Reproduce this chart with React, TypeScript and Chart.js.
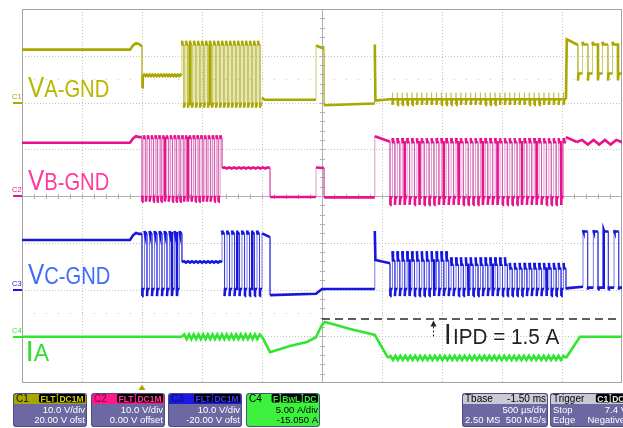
import { useEffect, useRef } from "react";
import { Chart, registerables } from "chart.js";

Chart.register(...registerables);

// ---------- scope settings ----------
const TIME_MIN = -1.0; // ms (500 µs/div, 10 div, trigger at 0)
const TIME_MAX = 4.0;
const UNITS_PER_DIV = [10, 10, 10, 5];
const ZERO_POS_DIV = [2, 0, -2, -3.01]; // zero level, divisions above centre
const CHANNELS = ["C1", "C2", "C3", "C4"];
const TRACE_COLORS = ["#aaa700", "#e8128c", "#1616dc", "#30e630"];
const EDGE_COLORS = ["rgba(180,178,40,0.65)", "rgba(210,80,170,0.6)", "rgba(50,50,225,0.65)", "rgba(48,230,48,0.9)"];
const LABEL_COLORS = ["#b8b600", "#ff3a9c", "#3e6cff", "#33dd33"];
const TRACE_LABELS = [["V", "A-GND"], ["V", "B-GND"], ["V", "C-GND"], ["I", "A"]];

// ---------- traces (values read from the screen) ----------
// ["pts", [t, v], ...]
// ["burst", t0, t1, pulses, levelA, levelB, fractionA, overshootA, overshootB]
// ["ripple", t0, t1, count, centre, amplitude]
// ["spikes", t0, t1, count, base, up, down]
const VA_GND = [
  ["pts", [-1, 11.3], [-0.1, 11.3], [-0.075, 12.2], [-0.05, 12.7], [-0.025, 12.5], [0, 12.0], [0, 3.2], [0.006, 5.8]],
  ["ripple", 0.006, 0.333, 14, 5.8, 0.15],
  ["burst", 0.333, 1.0, 20, 12.4, -0.3, 0.5, 0.8, -0.8],
  ["pts", [1.0, 1.0], [1.02, 0.6], [1.45, 0.6], [1.45, 12.2], [1.517, 11.5], [1.517, -0.6], [1.94, -0.2], [1.94, 12.4], [1.945, 0.4], [2.067, 0.7]],
  ["spikes", 2.067, 3.533, 36, 0.7, 1.4, 1.2],
  ["pts", [3.533, 0.7], [3.54, 13.5], [3.633, 12.3]],
  ["burst", 3.633, 4.05, 5, 6.2, 12.4, 0.45, -1.5, 0.6],
];

const VB_GND = [
  ["pts", [-1, 11.4], [-0.1, 11.4], [-0.075, 12.3], [-0.05, 12.8], [-0.025, 12.6], [0, 12.6]],
  ["burst", 0, 0.667, 21, -0.2, 12.4, 0.5, -1.0, 0.6],
  ["pts", [0.667, 6.0]],
  ["ripple", 0.667, 1.067, 10, 6.0, 0.12],
  ["pts", [1.067, 6.0], [1.067, -0.2], [1.45, -0.2], [1.45, 6.1], [1.517, 6.0], [1.517, -0.3], [1.94, -0.3], [1.94, 12.8], [2.067, 11.6]],
  ["burst", 2.067, 3.533, 36, -0.3, 11.5, 0.5, -1.6, 0.9],
  ["pts", [3.533, 12.6], [3.62, 11.6]],
  ["ripple", 3.62, 4.0, 4, 11.5, 0.5],
];

const VC_GND = [
  ["pts", [-1, 10.6], [-0.1, 10.6], [-0.075, 11.6], [-0.05, 12.1], [-0.025, 11.9], [0, 11.9]],
  ["burst", 0, 0.333, 8, 0.1, 12.0, 0.5, -1.5, 0.5],
  ["pts", [0.333, 5.9]],
  ["ripple", 0.333, 0.667, 10, 5.9, 0.15],
  ["pts", [0.667, 5.9]],
  ["burst", 0.667, 1.0, 8, 12.0, 0.1, 0.5, 0.6, -1.5],
  ["pts", [1.0, 12.0], [1.067, 11.2], [1.067, -1.2], [1.45, -0.9], [1.5, 0.1], [1.94, 0.1], [1.94, 12.5], [1.945, 6.3], [2.067, 5.6]],
  ["burst", 2.067, 2.556, 12, 0.1, 6.2, 0.5, -1.5, 2.0],
  ["burst", 2.556, 3.045, 12, 0.1, 5.3, 0.5, -1.5, 1.6],
  ["burst", 3.045, 3.533, 12, 0.1, 4.5, 0.5, -1.5, 1.2],
  ["pts", [3.533, 0.1], [3.55, 0.3], [3.675, 0.6]],
  ["burst", 3.675, 4.02, 4, 12.4, 0.4, 0.45, 0.3, -0.4],
];

const I_A = [
  ["pts", [-1, 0], [0.333, 0]],
  ["ripple", 0.333, 1.0, 17, 0, 0.25],
  ["pts", [1.0, 0], [1.067, -1.65], [1.125, -1.42], [1.233, -1.0], [1.375, -0.56], [1.45, -0.05], [1.47, 0.5], [1.5, 1.25], [1.525, 1.58], [1.61, 1.27], [1.733, 0.83], [1.875, 0.4], [1.94, 0.19], [2.05, -2.27]],
  ["ripple", 2.05, 3.533, 36, -2.27, 0.22],
  ["pts", [3.533, -2.27], [3.65, 0], [4.0, 0]],
];

const IPD_LEVEL = 1.9; // A
const IPD_SPAN = [1.5, 3.95];
const IPD_ARROW_T = 2.425;
const IPD_TEXT = ["I", "IPD = 1.5 A"];

// ---------- readout boxes ----------
const CH_VDIV_TEXT = ["10.0 V/div", "10.0 V/div", "10.0 V/div", "5.00 A/div"];
const CH_OFS_TEXT = ["20.00 V ofst", "0.00 V offset", "-20.00 V ofst", "-15.050 A"];
const CH_TAGS = [["FLT", "DC1M"], ["FLT", "DC1M"], ["FLT", "DC1M"], ["F", "BwL", "DC"]];
const TBASE_TEXT = ["Tbase", "-1.50 ms", "500 µs/div", "2.50 MS", "500 MS/s"];
const TRIGGER_TEXT = ["Trigger", "C1", "DC", "Stop", "7.4 V", "Edge", "Negative"];

function buildTrace(pieces: any[]) {
  const out: { x: number; y: number }[] = [];
  const tiny = 0.004;
  for (const p of pieces) {
    const kind = p[0];
    if (kind === "pts") {
      for (let i = 1; i < p.length; i++) out.push({ x: p[i][0], y: p[i][1] });
    } else if (kind === "burst") {
      const [, t0, t1, n, a, b, frac, sa, sb] = p;
      const per = (t1 - t0) / n;
      for (let k = 0; k < n; k++) {
        const ts = t0 + k * per;
        const tm = ts + frac * per;
        out.push({ x: ts, y: a + sa }, { x: ts + tiny, y: a }, { x: tm, y: a });
        out.push({ x: tm, y: b + sb }, { x: tm + tiny, y: b }, { x: ts + per, y: b });
      }
    } else if (kind === "ripple") {
      const [, t0, t1, n, c, amp] = p;
      const step = (t1 - t0) / (2 * n);
      for (let i = 0; i <= 2 * n; i++) {
        const y = i === 0 || i === 2 * n ? c : i % 2 ? c + amp : c - amp;
        out.push({ x: t0 + i * step, y });
      }
    } else if (kind === "spikes") {
      const [, t0, t1, n, base, up, down] = p;
      const per = (t1 - t0) / n;
      out.push({ x: t0, y: base });
      for (let k = 0; k < n; k++) {
        const tc = t0 + (k + 0.5) * per;
        out.push({ x: tc, y: base }, { x: tc, y: base + up }, { x: tc, y: base - down }, { x: tc + 0.005, y: base });
      }
      out.push({ x: t1, y: base });
    }
  }
  return out;
}

function axisFor(i: number) {
  return {
    type: "linear",
    display: false,
    min: (-4 - ZERO_POS_DIV[i]) * UNITS_PER_DIV[i],
    max: (4 - ZERO_POS_DIV[i]) * UNITS_PER_DIV[i],
  };
}

const FONT = '"Liberation Sans", Arial, sans-serif';

function drawLabel(ctx: CanvasRenderingContext2D, x: number, y: number, parts: [string, number][], color: string, sx: number) {
  ctx.save();
  ctx.translate(x, y);
  ctx.scale(sx, 1);
  ctx.fillStyle = color;
  ctx.textAlign = "left";
  ctx.textBaseline = "alphabetic";
  let cx = 0;
  for (const [txt, size] of parts) {
    ctx.font = `${size}px ${FONT}`;
    ctx.fillText(txt, cx, 0);
    cx += ctx.measureText(txt).width;
  }
  ctx.restore();
}

function drawTags(ctx: CanvasRenderingContext2D, right: number, top: number, tags: string[], color: string) {
  ctx.font = `bold 8.5px ${FONT}`;
  let x = right;
  for (let i = tags.length - 1; i >= 0; i--) {
    const w = ctx.measureText(tags[i]).width + 3;
    x -= w;
    ctx.fillStyle = "#000";
    ctx.beginPath();
    ctx.roundRect(x, top, w, 8.5, 1.5);
    ctx.fill();
    ctx.fillStyle = color;
    ctx.textAlign = "left";
    ctx.fillText(tags[i], x + 1.5, top + 7.5);
    x -= 1;
  }
}

function drawBox(ctx: CanvasRenderingContext2D, x: number, w: number, headColor: string, bodyColor: string) {
  const y = 393, h = 34, hh = 10;
  ctx.fillStyle = bodyColor;
  ctx.beginPath();
  ctx.roundRect(x, y, w, h, 3);
  ctx.fill();
  ctx.fillStyle = headColor;
  ctx.beginPath();
  ctx.roundRect(x + 1, y + 1, w - 2, hh, [2, 2, 0, 0]);
  ctx.fill();
  ctx.strokeStyle = "#4e4b85";
  ctx.lineWidth = 1;
  ctx.beginPath();
  ctx.roundRect(x + 0.5, y + 0.5, w - 1, h - 1, 3);
  ctx.stroke();
}

const BODY = "#6c68a2";
const HEADS = ["#aaa600", "#ff1a8c", "#1a1ae0", "#3ef03e"];
const HEAD_TEXT = ["#111", "#6a0044", "#0c0c70", "#000"];
const TAG_TEXT = ["#d0cc10", "#ff3a98", "#3a3aff", "#3ef03e"];
const BOX_X = [13, 91, 168, 246];

const scopePlugin = {
  id: "scope",
  beforeDraw(chart: any) {
    const ctx = chart.ctx;
    ctx.save();
    ctx.fillStyle = "#fff";
    ctx.fillRect(0, 0, chart.width, chart.height);
    ctx.restore();
  },
  beforeDatasetsDraw(chart: any) {
    const { ctx, chartArea: a } = chart;
    const dx = (a.right - a.left) / 10;
    const dy = (a.bottom - a.top) / 8;
    ctx.save();
    ctx.lineWidth = 1;
    ctx.strokeStyle = "#c2c2c2";
    ctx.setLineDash([1, 2]);
    for (let i = 1; i < 10; i++) {
      if (i === 5) continue;
      const x = Math.round(a.left + i * dx) + 0.5;
      ctx.beginPath(); ctx.moveTo(x, a.top); ctx.lineTo(x, a.bottom); ctx.stroke();
    }
    for (let j = 1; j < 8; j++) {
      if (j === 4) continue;
      const y = Math.round(a.top + j * dy) + 0.5;
      ctx.beginPath(); ctx.moveTo(a.left, y); ctx.lineTo(a.right, y); ctx.stroke();
    }
    ctx.setLineDash([1, 11]);
    for (const j of [1.5, 6.5]) {
      const y = Math.round(a.top + j * dy) + 0.5;
      ctx.beginPath(); ctx.moveTo(a.left, y); ctx.lineTo(a.right, y); ctx.stroke();
    }
    ctx.setLineDash([]);
    ctx.strokeStyle = "#b0b0b0";
    const cx = Math.round(a.left + 5 * dx) + 0.5;
    const cy = Math.round(a.top + 4 * dy) + 0.5;
    ctx.beginPath(); ctx.moveTo(cx, a.top); ctx.lineTo(cx, a.bottom); ctx.stroke();
    ctx.beginPath(); ctx.moveTo(a.left, cy); ctx.lineTo(a.right, cy); ctx.stroke();
    for (let k = 1; k < 40; k++) {
      const y = Math.round(a.top + (k * dy) / 5) + 0.5;
      ctx.beginPath(); ctx.moveTo(cx - 2.5, y); ctx.lineTo(cx + 2.5, y); ctx.stroke();
    }
    for (let k = 1; k < 50; k++) {
      const x = Math.round(a.left + (k * dx) / 5) + 0.5;
      ctx.beginPath(); ctx.moveTo(x, cy - 2.5); ctx.lineTo(x, cy + 2.5); ctx.stroke();
    }
    ctx.strokeStyle = "#a4a4a4";
    ctx.strokeRect(a.left + 0.5, a.top + 0.5, a.right - a.left - 1, a.bottom - a.top - 1);
    ctx.restore();
  },
  afterDatasetsDraw(chart: any) {
    const { ctx, chartArea: a, scales } = chart;
    ctx.save();
    // trace labels
    const baselines = [97, 190, 284, 361];
    for (let i = 0; i < 4; i++) {
      const [big, small] = TRACE_LABELS[i];
      if (i === 3) drawLabel(ctx, 25.5, baselines[i], [[big, 30], [small, 23]], LABEL_COLORS[i], 1);
      else drawLabel(ctx, 28, baselines[i], [[big, 29], [small, 24]], LABEL_COLORS[i], 0.84);
    }
    // channel ground markers
    for (let i = 0; i < 4; i++) {
      const y = Math.round(scales["y" + (i + 1)].getPixelForValue(0));
      ctx.fillStyle = TRACE_COLORS[i];
      ctx.fillRect(13, y - 1, 9, 2);
      ctx.font = `7.5px ${FONT}`;
      ctx.textAlign = "left";
      ctx.fillText(CHANNELS[i], 12, y - 4);
    }
    // trigger marker
    const tx = scales.x.getPixelForValue(0);
    ctx.fillStyle = "#b0a400";
    ctx.beginPath();
    ctx.moveTo(tx, a.bottom + 1.5);
    ctx.lineTo(tx - 3.5, a.bottom + 7);
    ctx.lineTo(tx + 3.5, a.bottom + 7);
    ctx.closePath();
    ctx.fill();
    // IPD arrow
    const ax = Math.round(scales.x.getPixelForValue(IPD_ARROW_T)) + 0.5;
    const ayTop = scales.y4.getPixelForValue(IPD_LEVEL) + 1.5;
    const ayBot = scales.y4.getPixelForValue(0);
    ctx.strokeStyle = "#222";
    ctx.lineWidth = 1;
    ctx.setLineDash([2, 2]);
    ctx.beginPath(); ctx.moveTo(ax, ayTop + 6); ctx.lineTo(ax, ayBot); ctx.stroke();
    ctx.setLineDash([]);
    ctx.fillStyle = "#222";
    ctx.beginPath();
    ctx.moveTo(ax, ayTop);
    ctx.lineTo(ax - 3, ayTop + 6);
    ctx.lineTo(ax + 3, ayTop + 6);
    ctx.closePath();
    ctx.fill();
    drawLabel(ctx, 444, 344, [[IPD_TEXT[0], 29]], "#222", 0.94);
    drawLabel(ctx, 453, 344, [[IPD_TEXT[1], 22]], "#222", 0.94);

    // channel readout boxes
    for (let i = 0; i < 4; i++) {
      const x = BOX_X[i], w = 74;
      drawBox(ctx, x, w, HEADS[i], i === 3 ? HEADS[3] : BODY);
      ctx.fillStyle = HEAD_TEXT[i];
      ctx.font = `10px ${FONT}`;
      ctx.textAlign = "left";
      ctx.fillText(CHANNELS[i], x + 3, 402);
      drawTags(ctx, x + w - 2, 394, CH_TAGS[i], TAG_TEXT[i]);
      ctx.fillStyle = i === 3 ? "#000" : "#fff";
      ctx.font = `9.5px ${FONT}`;
      ctx.textAlign = "right";
      ctx.fillText(CH_VDIV_TEXT[i], x + w - 2, 413);
      ctx.fillText(CH_OFS_TEXT[i], x + w - 2, 423);
    }
    // timebase box
    drawBox(ctx, 462, 86, "#cacad6", BODY);
    ctx.font = `10px ${FONT}`;
    ctx.fillStyle = "#000";
    ctx.textAlign = "left";
    ctx.fillText(TBASE_TEXT[0], 465, 402);
    ctx.textAlign = "right";
    ctx.fillText(TBASE_TEXT[1], 546, 402);
    ctx.fillStyle = "#fff";
    ctx.font = `9.5px ${FONT}`;
    ctx.fillText(TBASE_TEXT[2], 546, 413);
    ctx.fillText(TBASE_TEXT[4], 546, 423);
    ctx.textAlign = "left";
    ctx.fillText(TBASE_TEXT[3], 465, 423);
    // trigger box
    drawBox(ctx, 550, 80, "#cacad6", BODY);
    ctx.font = `10px ${FONT}`;
    ctx.fillStyle = "#000";
    ctx.textAlign = "left";
    ctx.fillText(TRIGGER_TEXT[0], 553, 402);
    drawTags(ctx, 626, 394, [TRIGGER_TEXT[1], TRIGGER_TEXT[2]], "#e6e6e6");
    ctx.fillStyle = "#fff";
    ctx.font = `9.5px ${FONT}`;
    ctx.textAlign = "left";
    ctx.fillText(TRIGGER_TEXT[3], 553, 413);
    ctx.fillText(TRIGGER_TEXT[5], 553, 423);
    ctx.textAlign = "right";
    ctx.fillText(TRIGGER_TEXT[4], 627, 413);
    ctx.fillText(TRIGGER_TEXT[6], 625, 423);
    ctx.restore();
  },
};

export default function App() {
  const ref = useRef<HTMLCanvasElement | null>(null);
  useEffect(() => {
    if (!ref.current) return;
    const traces = [VA_GND, VB_GND, VC_GND, I_A];
    const datasets: any[] = traces.map((pieces, i) => ({
      label: TRACE_LABELS[i].join(""),
      data: buildTrace(pieces),
      yAxisID: "y" + (i + 1),
      borderColor: TRACE_COLORS[i],
      borderWidth: 2.6,
      pointRadius: 0,
      tension: 0,
      fill: false,
      segment: {
        borderWidth: (c: any) => (c.p0.parsed.x === c.p1.parsed.x ? 1 : 2.6),
        borderColor: (c: any) => (c.p0.parsed.x === c.p1.parsed.x ? EDGE_COLORS[i] : TRACE_COLORS[i]),
      },
    }));
    datasets.push({
      label: "IPD",
      data: [{ x: IPD_SPAN[0], y: IPD_LEVEL }, { x: IPD_SPAN[1], y: IPD_LEVEL }],
      yAxisID: "y4",
      borderColor: "#2a2a2a",
      borderWidth: 1.5,
      borderDash: [8, 5],
      pointRadius: 0,
    });
    const chart = new Chart(ref.current, {
      type: "line",
      data: { datasets },
      options: {
        responsive: false,
        animation: false,
        devicePixelRatio: 1,
        events: [],
        layout: { padding: { left: 22, right: 1, top: 9, bottom: 45 } },
        plugins: { legend: { display: false }, tooltip: { enabled: false }, title: { display: false } },
        scales: {
          x: { type: "linear", display: false, min: TIME_MIN, max: TIME_MAX },
          y1: axisFor(0),
          y2: axisFor(1),
          y3: axisFor(2),
          y4: axisFor(3),
        } as any,
      },
      plugins: [scopePlugin as any],
    });
    return () => chart.destroy();
  }, []);
  return (
    <div style={{ position: "absolute", left: 0, top: 0, width: 623, height: 428, background: "#fff" }}>
      <canvas ref={ref} width={623} height={428} style={{ display: "block" }} />
    </div>
  );
}
